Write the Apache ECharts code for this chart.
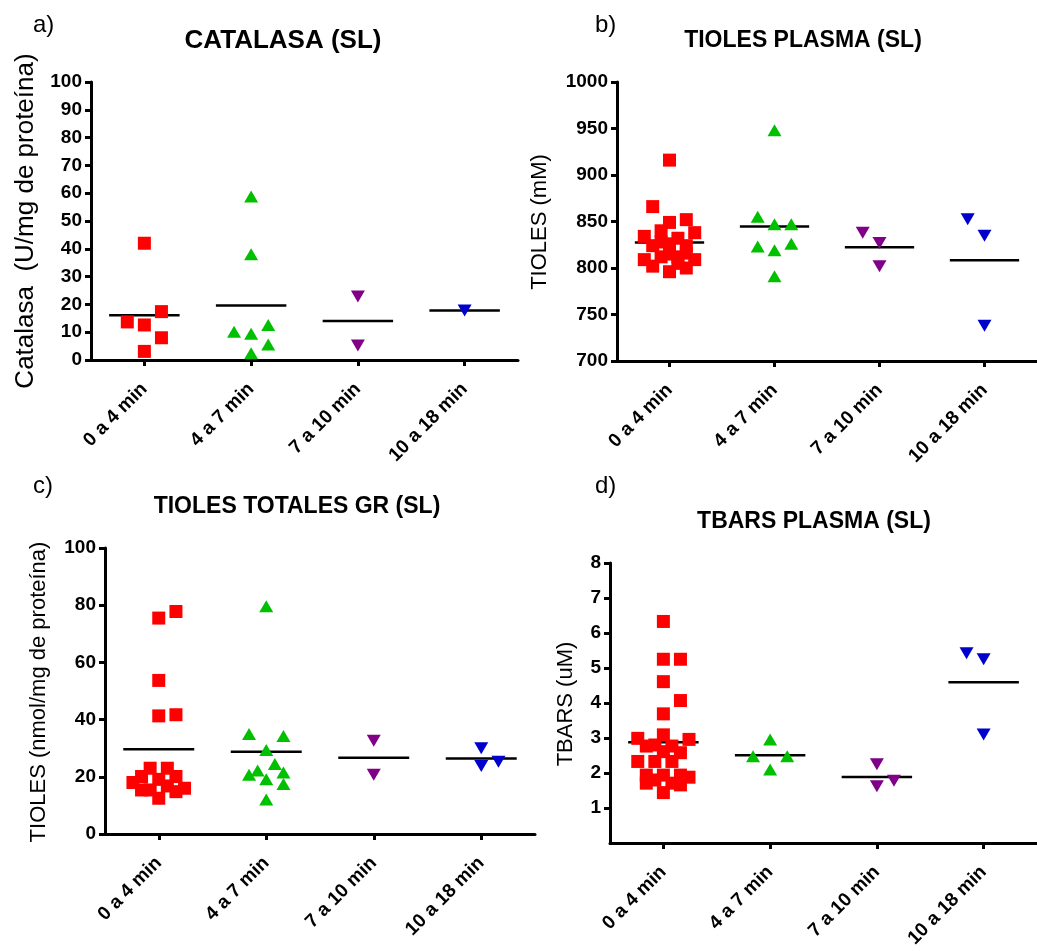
<!DOCTYPE html>
<html>
<head>
<meta charset="utf-8">
<script src="https://cdn.jsdelivr.net/npm/echarts@6/dist/echarts.min.js"></script>
<style>
html,body{margin:0;padding:0;background:#fff;}
#chart{width:1037px;height:951px;}
</style>
</head>
<body>
<div id="chart"></div>
<script>
// ---------- DATA ----------
const categories = ['0 a 4 min', '4 a 7 min', '7 a 10 min', '10 a 18 min'];

// Panel a) CATALASA (SL)
const catalasa0a4 = [42, 17.4, 13.7, 12.6, 8.0, 3.1];
const catalasa4a7 = [58.8, 38.0, 10.2, 9.4, 12.6, 5.6, 2.4];
const catalasa7a10 = [22.8, 5.2];
const catalasa10a18 = [17.8];
// jitter column of each point (-3..3)
const catalasaCols0a4 = [0, 2, -2, 0, 2, 0];
const catalasaCols4a7 = [0, 0, -2, 0, 2, 2, 0];
const catalasaCols7a10 = [0, 0];
const catalasaCols10a18 = [0];

// Panel b) TIOLES PLASMA (SL)
const tiolesPl0a4 = [916, 866, 849, 852, 838, 834, 840, 824, 828, 832, 824, 809, 809, 802, 800, 796, 815, 812, 812, 805, 816, 826];
const tiolesPl4a7 = [948, 855, 847, 847, 823, 826, 819, 791];
const tiolesPl7a10 = [838, 827, 802];
const tiolesPl10a18 = [852.5, 834.6, 738];
const tiolesPlCols0a4 = [0, -2, 0, 2, 3, -3, -1, -2, -1, 1, 2, -3, 3, -2, 2, 0, 0, -1, 1, 1, 2, 0];
const tiolesPlCols4a7 = [0, -2, 0, 2, -2, 2, 0, 0];
const tiolesPlCols7a10 = [-2, 0, 0];
const tiolesPlCols10a18 = [-2, 0, 0];

// Panel c) TIOLES TOTALES GR (SL)
const tiolesGr0a4 = [75.5, 77.8, 53.7, 41.3, 41.7, 23.0, 23.0, 20.1, 19.1, 20.1, 18.0, 15.4, 16.8, 16.0, 12.5, 14.8, 15.4];
const tiolesGr4a7 = [79.6, 35.0, 34.3, 29.4, 24.5, 22.2, 20.7, 21.5, 19.1, 17.5, 12.1];
const tiolesGr7a10 = [32.6, 20.7];
const tiolesGr10a18 = [30.0, 23.8, 25.3];
const tiolesGrCols0a4 = [0, 2, 0, 0, 2, -1, 1, -2, 0, 2, -3, -2, 1, 3, 0, 2, -1];
const tiolesGrCols4a7 = [0, -2, 2, 0, 1, -1, -2, 2, 0, 2, 0];
const tiolesGrCols7a10 = [0, 0];
const tiolesGrCols10a18 = [0, 0, 2];

// Panel d) TBARS PLASMA (SL)
const tbars0a4 = [6.33, 5.25, 5.25, 4.61, 4.07, 3.69, 3.09, 2.99, 2.96, 2.77, 2.80, 2.77, 2.61, 2.58, 2.33, 2.33, 2.33, 1.94, 1.94, 1.94, 1.88, 1.71, 1.71, 1.66, 1.44, 1.80];
const tbars4a7 = [2.96, 2.48, 2.48, 2.10];
const tbars7a10 = [2.25, 1.78, 1.62];
const tbars10a18 = [5.42, 5.25, 3.10];
const tbarsCols0a4 = [0, 0, 2, 0, 2, 0, 0, -3, 3, -2, -1, 1, 0, 2, -3, -1, 1, -2, 0, 2, 3, -2, 1, 2, 0, -1];
const tbarsCols4a7 = [0, -2, 2, 0];
const tbarsCols7a10 = [0, 2, 0];
const tbarsCols10a18 = [-2, 0, 0];

const panelTitles = ['CATALASA (SL)', 'TIOLES PLASMA (SL)', 'TIOLES TOTALES GR (SL)', 'TBARS PLASMA (SL)'];
const panelLetters = ['a)', 'b)', 'c)', 'd)'];
const yNames = ['Catalasa  (U/mg de proteína)', 'TIOLES (mM)', 'TIOLES (nmol/mg de proteína)', 'TBARS (uM)'];

// ---------- LAYOUT / STYLE ----------
const FONT = '"Liberation Sans", Arial, sans-serif';
const STEP = 0.08;       // jitter column width (category units)
const HALF = 0.33;       // half width of mean line
const colors = ['#ff0000', '#00c000', '#800088', '#0000cc'];

const panels = [
  { groups: [catalasa0a4, catalasa4a7, catalasa7a10, catalasa10a18],
    cols: [catalasaCols0a4, catalasaCols4a7, catalasaCols7a10, catalasaCols10a18],
    grid: { left: 91, top: 82, width: 427, height: 278 },
    y: { min: 0, max: 100, interval: 10 } },
  { groups: [tiolesPl0a4, tiolesPl4a7, tiolesPl7a10, tiolesPl10a18],
    cols: [tiolesPlCols0a4, tiolesPlCols4a7, tiolesPlCols7a10, tiolesPlCols10a18],
    grid: { left: 617, top: 82, width: 429, height: 279 },
    y: { min: 700, max: 1000, interval: 50 } },
  { groups: [tiolesGr0a4, tiolesGr4a7, tiolesGr7a10, tiolesGr10a18],
    cols: [tiolesGrCols0a4, tiolesGrCols4a7, tiolesGrCols7a10, tiolesGrCols10a18],
    grid: { left: 105, top: 548, width: 430, height: 286 },
    y: { min: 0, max: 100, interval: 20 } },
  { groups: [tbars0a4, tbars4a7, tbars7a10, tbars10a18],
    cols: [tbarsCols0a4, tbarsCols4a7, tbarsCols7a10, tbarsCols10a18],
    grid: { left: 610, top: 563, width: 431, height: 280 },
    y: { min: 0, max: 8, interval: 1, hideZero: true } }
];

const titlePos = [[283, 41, 26], [803, 41, 23], [297, 507, 23], [814, 522, 23]];
const letterPos = [[33, 25], [595, 25], [33, 486], [595, 486]];
const yNamePos = [[26, 221, 26], [540, 222, 22], [39, 692, 22], [566, 704, 22]];

const grids = [], xAxes = [], yAxes = [], series = [], graphics = [];

panels.forEach((p, pi) => {
  grids.push(Object.assign({ containLabel: false }, p.grid));
  xAxes.push({
    type: 'value', gridIndex: pi, min: 0.5, max: 4.5,
    axisLine: { show: true, onZero: false, lineStyle: { color: '#000', width: 3 } },
    axisTick: { show: true, customValues: [1, 2, 3, 4], length: 6, lineStyle: { color: '#000', width: 3 } },
    axisLabel: {
      customValues: [1, 2, 3, 4], rotate: 45, margin: 26,
      formatter: v => categories[Math.round(v) - 1] || '',
      fontFamily: FONT, fontWeight: 'bold', fontSize: 19, color: '#000'
    },
    splitLine: { show: false }
  });
  const tickVals = [];
  for (let v = p.y.min; v <= p.y.max + 1e-9; v += p.y.interval) {
    if (!(p.y.hideZero && v === 0)) tickVals.push(v);
  }
  yAxes.push({
    type: 'value', gridIndex: pi, min: p.y.min, max: p.y.max, interval: p.y.interval,
    axisLine: { show: true, onZero: false, lineStyle: { color: '#000', width: 3 } },
    axisTick: { show: true, customValues: tickVals, length: 6, lineStyle: { color: '#000', width: 3 } },
    axisLabel: {
      customValues: tickVals, margin: 9,
      formatter: v => String(v),
      fontFamily: FONT, fontWeight: 'bold', fontSize: 19, color: '#000'
    },
    splitLine: { show: false }
  });

  p.groups.forEach((vals, gi) => {
    const cols = p.cols[gi];
    const isSquare = gi === 0;
    series.push({
      type: 'scatter', xAxisIndex: pi, yAxisIndex: pi,
      data: vals.map((v, i) => [gi + 1 + cols[i] * STEP, v]),
      symbol: isSquare ? 'rect' : 'triangle',
      symbolSize: isSquare ? 13 : [14, 12],
      symbolRotate: gi >= 2 ? 180 : 0,
      itemStyle: { color: colors[gi], opacity: 1 },
      z: 3, silent: true, animation: false
    });
    const mean = vals.reduce((a, b) => a + b, 0) / vals.length;
    series.push({
      type: 'line', xAxisIndex: pi, yAxisIndex: pi,
      data: [[gi + 1 - HALF, mean], [gi + 1 + HALF, mean]],
      symbol: 'none',
      lineStyle: { color: '#000', width: 2.5 },
      z: 2, silent: true, animation: false
    });
  });

  graphics.push({
    type: 'text', x: titlePos[pi][0], y: titlePos[pi][1],
    style: { text: panelTitles[pi], align: 'center', verticalAlign: 'middle',
      font: 'bold ' + titlePos[pi][2] + 'px ' + FONT, fill: '#000' }
  });
  graphics.push({
    type: 'text', x: letterPos[pi][0], y: letterPos[pi][1],
    style: { text: panelLetters[pi], align: 'left', verticalAlign: 'middle',
      font: '24px ' + FONT, fill: '#000' }
  });
  graphics.push({
    type: 'text', x: yNamePos[pi][0], y: yNamePos[pi][1], rotation: Math.PI / 2,
    style: { text: yNames[pi], align: 'center', verticalAlign: 'middle',
      font: yNamePos[pi][2] + 'px ' + FONT, fill: '#000' }
  });
});

const chart = echarts.init(document.getElementById('chart'), null, { renderer: 'canvas' });
chart.setOption({
  backgroundColor: '#fff',
  animation: false,
  grid: grids,
  xAxis: xAxes,
  yAxis: yAxes,
  series: series,
  graphic: graphics
});
</script>
</body>
</html>
